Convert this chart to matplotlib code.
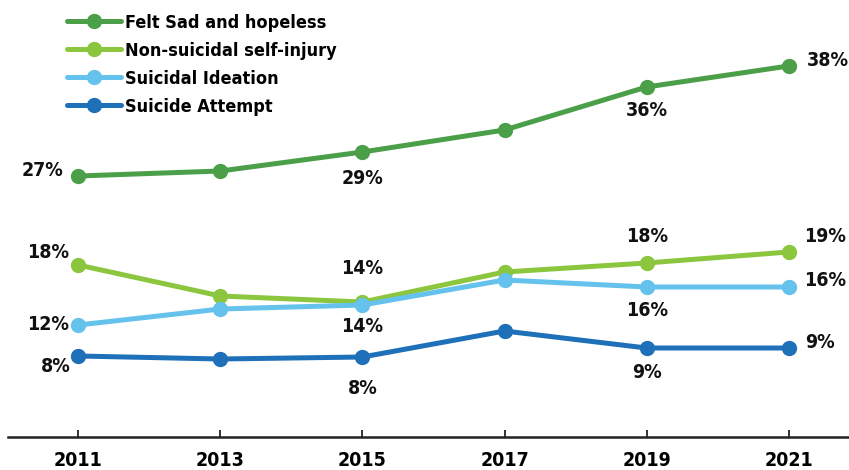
import matplotlib
matplotlib.use("Agg")
import matplotlib.pyplot as plt
from matplotlib import font_manager

years = [2011, 2013, 2015, 2017, 2019, 2021]
series_names = ["Felt Sad and hopeless", "Non-suicidal self-injury",
                "Suicidal Ideation", "Suicide Attempt"]
sad = [27.0, 27.5, 29.4, 31.6, 35.9, 38.0]
nssi = [18.1, 15.0, 14.4, 17.4, 18.3, 19.4]
ideation = [12.1, 13.7, 14.1, 16.6, 15.9, 15.9]
attempt = [9.0, 8.7, 8.9, 11.5, 9.8, 9.8]

# labels shown on the chart: (year index, text)
sad_labels = [(0, "27%"), (2, "29%"), (4, "36%"), (5, "38%")]
nssi_labels = [(0, "18%"), (2, "14%"), (4, "18%"), (5, "19%")]
ideation_labels = [(0, "12%"), (2, "14%"), (4, "16%"), (5, "16%")]
attempt_labels = [(0, "8%"), (2, "8%"), (4, "9%"), (5, "9%")]

colors = ["#4a9f48", "#8cc63e", "#64c2ed", "#1e70b8"]

names = {f.name for f in font_manager.fontManager.ttflist}
fam = "Liberation Sans Narrow" if "Liberation Sans Narrow" in names else "DejaVu Sans"
plt.rcParams["font.family"] = [fam, "DejaVu Sans"]
plt.rcParams["font.weight"] = "bold"
plt.rcParams["font.stretch"] = "condensed"

fig = plt.figure(figsize=(8.49, 4.70), dpi=100)
ax = fig.add_axes([8 / 849, 33 / 470, 841 / 849, 437 / 470])

data = [sad, nssi, ideation, attempt]
for vals, c, n in zip(data, colors, series_names):
    ax.plot(years, vals, color=c, lw=3.6, marker="o", ms=10, label=n,
            solid_capstyle="round")

offsets = [
    [(-36, 6), (0, -26), (0, -23), (39, 6)],
    [(-30, 13), (0, 34), (0, 27), (36, 16)],
    [(-30, 1), (0, -21), (0, -23), (36, 7)],
    [(-23, -10), (0, -31), (0, -24), (31, 6)],
]
label_sets = [sad_labels, nssi_labels, ideation_labels, attempt_labels]
for vals, labs, offs in zip(data, label_sets, offsets):
    for (i, t), (dx, dy) in zip(labs, offs):
        ax.annotate(t, (years[i], vals[i]), xytext=(dx, dy),
                    textcoords="offset pixels", ha="center", va="center",
                    fontsize=14, fontweight="bold", color="#111111")

ax.set_xlim(2010.01, 2021.85)
ax.set_ylim(0.9, 44.6)
for s in ["top", "right", "left"]:
    ax.spines[s].set_visible(False)
ax.spines["bottom"].set_linewidth(1.8)
ax.spines["bottom"].set_color("#222222")
ax.set_yticks([])
ax.set_xticks(years)
ax.set_xticklabels([str(y) for y in years], fontsize=14, fontweight="bold")
ax.tick_params(axis="x", direction="in", length=5, width=1.3, pad=10,
               color="#222222")

leg = ax.legend(loc="upper left", bbox_to_anchor=(0.061, 0.985), frameon=False,
                fontsize=13, handlelength=3.0, handletextpad=0.25,
                labelspacing=0.55, borderaxespad=0)
for t in leg.get_texts():
    t.set_fontweight("bold")

fig.savefig("out.png", dpi=100)
